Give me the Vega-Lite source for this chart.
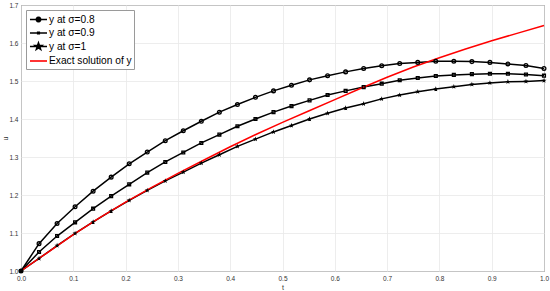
{
  "$schema": "https://vega.github.io/schema/vega-lite/v6.json",
  "width": 523,
  "height": 266,
  "autosize": "none",
  "padding": {"left": 21, "top": 5, "right": 6, "bottom": 20},
  "background": "white",
  "config": {
    "font": "Liberation Sans",
    "view": {"stroke": "#3a3a3a", "strokeWidth": 1},
    "axis": {
      "grid": true, "gridColor": "#e8e8e8", "gridWidth": 0.8,
      "domain": false, "ticks": false,
      "labelFontSize": 6.5, "labelColor": "#333333",
      "titleFontSize": 7, "titleFontWeight": "normal", "titleColor": "#333333"
    }
  },
  "data": {"values": [
    {"t":0,"u":1.000,"s":"y at σ=0.8"},{"t":0.0345,"u":1.072,"s":"y at σ=0.8"},{"t":0.0690,"u":1.125,"s":"y at σ=0.8"},{"t":0.1034,"u":1.169,"s":"y at σ=0.8"},{"t":0.1379,"u":1.210,"s":"y at σ=0.8"},{"t":0.1724,"u":1.247,"s":"y at σ=0.8"},{"t":0.2069,"u":1.282,"s":"y at σ=0.8"},{"t":0.2414,"u":1.313,"s":"y at σ=0.8"},{"t":0.2759,"u":1.343,"s":"y at σ=0.8"},{"t":0.3103,"u":1.369,"s":"y at σ=0.8"},{"t":0.3448,"u":1.394,"s":"y at σ=0.8"},{"t":0.3793,"u":1.418,"s":"y at σ=0.8"},{"t":0.4138,"u":1.438,"s":"y at σ=0.8"},{"t":0.4483,"u":1.457,"s":"y at σ=0.8"},{"t":0.4828,"u":1.474,"s":"y at σ=0.8"},{"t":0.5172,"u":1.489,"s":"y at σ=0.8"},{"t":0.5517,"u":1.503,"s":"y at σ=0.8"},{"t":0.5862,"u":1.514,"s":"y at σ=0.8"},{"t":0.6207,"u":1.524,"s":"y at σ=0.8"},{"t":0.6552,"u":1.533,"s":"y at σ=0.8"},{"t":0.6897,"u":1.540,"s":"y at σ=0.8"},{"t":0.7241,"u":1.546,"s":"y at σ=0.8"},{"t":0.7586,"u":1.549,"s":"y at σ=0.8"},{"t":0.7931,"u":1.552,"s":"y at σ=0.8"},{"t":0.8276,"u":1.552,"s":"y at σ=0.8"},{"t":0.8621,"u":1.551,"s":"y at σ=0.8"},{"t":0.8966,"u":1.549,"s":"y at σ=0.8"},{"t":0.9310,"u":1.545,"s":"y at σ=0.8"},{"t":0.9655,"u":1.541,"s":"y at σ=0.8"},{"t":1,"u":1.533,"s":"y at σ=0.8"},
    {"t":0,"u":1.000,"s":"y at σ=0.9"},{"t":0.0345,"u":1.050,"s":"y at σ=0.9"},{"t":0.0690,"u":1.092,"s":"y at σ=0.9"},{"t":0.1034,"u":1.128,"s":"y at σ=0.9"},{"t":0.1379,"u":1.164,"s":"y at σ=0.9"},{"t":0.1724,"u":1.197,"s":"y at σ=0.9"},{"t":0.2069,"u":1.228,"s":"y at σ=0.9"},{"t":0.2414,"u":1.259,"s":"y at σ=0.9"},{"t":0.2759,"u":1.287,"s":"y at σ=0.9"},{"t":0.3103,"u":1.312,"s":"y at σ=0.9"},{"t":0.3448,"u":1.337,"s":"y at σ=0.9"},{"t":0.3793,"u":1.359,"s":"y at σ=0.9"},{"t":0.4138,"u":1.381,"s":"y at σ=0.9"},{"t":0.4483,"u":1.400,"s":"y at σ=0.9"},{"t":0.4828,"u":1.418,"s":"y at σ=0.9"},{"t":0.5172,"u":1.434,"s":"y at σ=0.9"},{"t":0.5517,"u":1.449,"s":"y at σ=0.9"},{"t":0.5862,"u":1.463,"s":"y at σ=0.9"},{"t":0.6207,"u":1.474,"s":"y at σ=0.9"},{"t":0.6552,"u":1.484,"s":"y at σ=0.9"},{"t":0.6897,"u":1.493,"s":"y at σ=0.9"},{"t":0.7241,"u":1.502,"s":"y at σ=0.9"},{"t":0.7586,"u":1.508,"s":"y at σ=0.9"},{"t":0.7931,"u":1.513,"s":"y at σ=0.9"},{"t":0.8276,"u":1.516,"s":"y at σ=0.9"},{"t":0.8621,"u":1.518,"s":"y at σ=0.9"},{"t":0.8966,"u":1.519,"s":"y at σ=0.9"},{"t":0.9310,"u":1.519,"s":"y at σ=0.9"},{"t":0.9655,"u":1.517,"s":"y at σ=0.9"},{"t":1,"u":1.514,"s":"y at σ=0.9"},
    {"t":0,"u":1.000,"s":"y at σ=1"},{"t":0.0345,"u":1.033,"s":"y at σ=1"},{"t":0.0690,"u":1.067,"s":"y at σ=1"},{"t":0.1034,"u":1.099,"s":"y at σ=1"},{"t":0.1379,"u":1.129,"s":"y at σ=1"},{"t":0.1724,"u":1.158,"s":"y at σ=1"},{"t":0.2069,"u":1.186,"s":"y at σ=1"},{"t":0.2414,"u":1.212,"s":"y at σ=1"},{"t":0.2759,"u":1.237,"s":"y at σ=1"},{"t":0.3103,"u":1.260,"s":"y at σ=1"},{"t":0.3448,"u":1.284,"s":"y at σ=1"},{"t":0.3793,"u":1.306,"s":"y at σ=1"},{"t":0.4138,"u":1.328,"s":"y at σ=1"},{"t":0.4483,"u":1.347,"s":"y at σ=1"},{"t":0.4828,"u":1.366,"s":"y at σ=1"},{"t":0.5172,"u":1.383,"s":"y at σ=1"},{"t":0.5517,"u":1.400,"s":"y at σ=1"},{"t":0.5862,"u":1.415,"s":"y at σ=1"},{"t":0.6207,"u":1.429,"s":"y at σ=1"},{"t":0.6552,"u":1.440,"s":"y at σ=1"},{"t":0.6897,"u":1.453,"s":"y at σ=1"},{"t":0.7241,"u":1.463,"s":"y at σ=1"},{"t":0.7586,"u":1.472,"s":"y at σ=1"},{"t":0.7931,"u":1.479,"s":"y at σ=1"},{"t":0.8276,"u":1.485,"s":"y at σ=1"},{"t":0.8621,"u":1.491,"s":"y at σ=1"},{"t":0.8966,"u":1.495,"s":"y at σ=1"},{"t":0.9310,"u":1.498,"s":"y at σ=1"},{"t":0.9655,"u":1.499,"s":"y at σ=1"},{"t":1,"u":1.501,"s":"y at σ=1"},
    {"t":0,"u":1.000,"s":"Exact solution of y"},{"t":0.05,"u":1.048,"s":"Exact solution of y"},{"t":0.1,"u":1.096,"s":"Exact solution of y"},{"t":0.15,"u":1.140,"s":"Exact solution of y"},{"t":0.2,"u":1.181,"s":"Exact solution of y"},{"t":0.25,"u":1.220,"s":"Exact solution of y"},{"t":0.3,"u":1.257,"s":"Exact solution of y"},{"t":0.35,"u":1.292,"s":"Exact solution of y"},{"t":0.4,"u":1.327,"s":"Exact solution of y"},{"t":0.45,"u":1.360,"s":"Exact solution of y"},{"t":0.5,"u":1.391,"s":"Exact solution of y"},{"t":0.55,"u":1.421,"s":"Exact solution of y"},{"t":0.6,"u":1.451,"s":"Exact solution of y"},{"t":0.65,"u":1.481,"s":"Exact solution of y"},{"t":0.7,"u":1.510,"s":"Exact solution of y"},{"t":0.75,"u":1.537,"s":"Exact solution of y"},{"t":0.8,"u":1.561,"s":"Exact solution of y"},{"t":0.85,"u":1.584,"s":"Exact solution of y"},{"t":0.9,"u":1.606,"s":"Exact solution of y"},{"t":0.95,"u":1.626,"s":"Exact solution of y"},{"t":1,"u":1.646,"s":"Exact solution of y"}
  ]},
  "encoding": {
    "x": {"field": "t", "type": "quantitative", "scale": {"domain": [0, 1], "nice": false, "zero": false},
          "axis": {"title": "t", "values": [0,0.1,0.2,0.3,0.4,0.5,0.6,0.7,0.8,0.9,1], "labelPadding": 4, "titlePadding": 2, "labelFlush": false}},
    "y": {"field": "u", "type": "quantitative", "scale": {"domain": [1, 1.7], "nice": false, "zero": false},
          "axis": {"title": "u", "values": [1,1.1,1.2,1.3,1.4,1.5,1.6,1.7], "labelPadding": 3, "titleX": -13, "labelFlush": false}},
    "color": {"field": "s", "type": "nominal",
      "scale": {"domain": ["y at σ=0.8", "y at σ=0.9", "y at σ=1", "Exact solution of y"], "range": ["#000000", "#000000", "#000000", "#ff0000"]},
      "legend": {
        "title": null, "orient": "none", "legendX": 5, "legendY": 5,
        "fillColor": "white", "strokeColor": "#9a9a9a", "padding": 2, "cornerRadius": 0,
        "symbolSize": 169, "symbolStrokeWidth": 1.5, "labelFontSize": 10.2, "labelColor": "#000000",
        "labelOffset": 6, "rowPadding": 0.5, "labelLimit": 200,
        "encode": {"symbols": {"update": {
          "shape": {"signal": "datum.value === 'y at σ=0.8' ? 'M-0.85,0L1.77,0M0.8,0L0.754,0.17L0.63,0.294L0.46,0.34L0.29,0.294L0.166,0.17L0.12,0L0.166,-0.17L0.29,-0.294L0.46,-0.34L0.63,-0.294L0.754,-0.17Z' : datum.value === 'y at σ=0.9' ? 'M-0.85,0L1.77,0M0.34,-0.12L0.58,-0.12L0.58,0.12L0.34,0.12Z' : datum.value === 'y at σ=1' ? 'M-0.85,0L1.77,0M0.46,-0.55L0.59,-0.178L0.983,-0.17L0.669,0.068L0.783,0.445L0.46,0.22L0.137,0.445L0.251,0.068L-0.063,-0.17L0.33,-0.178Z' : 'M-0.85,0L1.77,0'"},
          "stroke": {"signal": "datum.value === 'Exact solution of y' ? '#ff0000' : '#000000'"},
          "fill": {"signal": "datum.value === 'Exact solution of y' ? '#ff0000' : '#000000'"},
          "strokeWidth": {"value": 1.6},
          "opacity": {"value": 1}
        }}}
      }
    }
  },
  "layer": [
    {
      "mark": {"type": "line", "strokeWidth": 1.5},
      "encoding": {"order": {"field": "t", "type": "quantitative"}}
    },
    {
      "transform": [{"filter": "datum.s !== 'Exact solution of y'"}],
      "mark": {"type": "point", "filled": false, "strokeWidth": 1.3, "opacity": 1},
      "encoding": {
        "shape": {"field": "s", "type": "nominal",
          "scale": {"domain": ["y at σ=0.8", "y at σ=0.9", "y at σ=1"], "range": ["circle", "square", "M0,-1L0.236,-0.324L0.951,-0.309L0.38,0.124L0.588,0.809L0,0.4L-0.588,0.809L-0.38,0.124L-0.951,-0.309L-0.236,-0.324Z"]},
          "legend": null},
        "size": {"field": "s", "type": "nominal",
          "scale": {"domain": ["y at σ=0.8", "y at σ=0.9", "y at σ=1"], "range": [14, 2, 30]},
          "legend": null}
      }
    }
  ]
}
